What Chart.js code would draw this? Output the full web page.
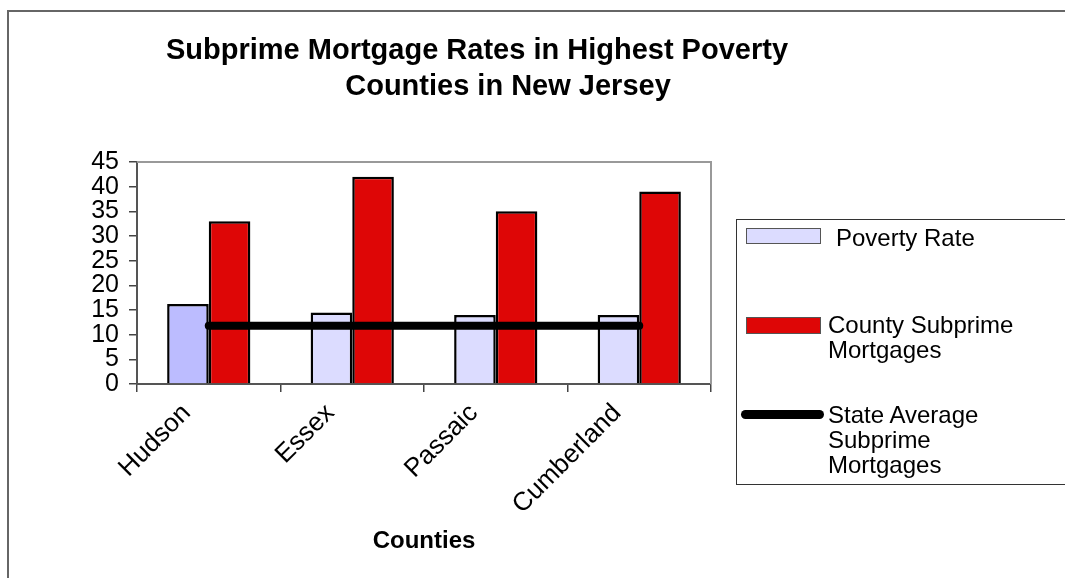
<!DOCTYPE html>
<html>
<head>
<meta charset="utf-8">
<script src="https://cdn.jsdelivr.net/npm/chart.js@4/dist/chart.umd.min.js"></script>
<style>
  html, body { margin:0; padding:0; background:#fff; overflow:hidden; }
  body { width:1065px; height:578px; position:relative; font-family:"Liberation Sans", Arial, sans-serif; color:#000; }
  #frame { position:absolute; left:7px; top:10px; width:1100px; height:600px; border-top:2px solid #666; border-left:2px solid #666; }
  canvas#c { position:absolute; left:0; top:0; }
  .title { position:absolute; white-space:nowrap; font-weight:bold; font-size:29px; line-height:36px; transform:translateX(-50%); }
  #legend { position:absolute; left:736px; top:219px; width:340px; height:264px; border:1.5px solid #333; }
  .sw { position:absolute; box-sizing:border-box; }
  .lt { position:absolute; font-size:24px; line-height:25px; width:200px; }
</style>
</head>
<body>
<div id="frame"></div>
<canvas id="c" width="1065" height="578"></canvas>
<div id="t1" class="title" style="left:477px; top:31px;"></div>
<div id="t2" class="title" style="left:508px; top:67px;"></div>
<div id="legend"></div>
<script>
// ---- data ----
const titleLines = ['Subprime Mortgage Rates in Highest Poverty', 'Counties in New Jersey'];
const categories = ['Hudson', 'Essex', 'Passaic', 'Cumberland'];
const seriesNames = ['Poverty Rate', 'County Subprime Mortgages', 'State Average Subprime Mortgages'];
const povertyRate = [16.2, 14.5, 14.0, 14.0];
const countySubprime = [33, 42, 35, 39];
const stateAverage = [11.8, 11.8, 11.8, 11.8];
const yMin = 0, yMax = 45, yStep = 5;
const xAxisTitle = 'Counties';

// ---- styles ----
const FONT = '"Liberation Sans", Arial, sans-serif';
const povertyColors = ['#bcbcff', '#dcdcff', '#dcdcff', '#dcdcff'];
const povertyLegendColor = '#dcdcff';
const countyColor = '#de0606';
const lineColor = '#000000';

document.getElementById('t1').textContent = titleLines[0];
document.getElementById('t2').textContent = titleLines[1];

// legend (HTML)
const lg = document.getElementById('legend');
function add(html){ lg.insertAdjacentHTML('beforeend', html); }
add(`<div class="sw" style="left:9px;top:8px;width:75px;height:16px;background:${povertyLegendColor};border:1.5px solid #555;"></div>`);
add(`<div class="lt" style="left:99px;top:5px;">${seriesNames[0]}</div>`);
add(`<div class="sw" style="left:9px;top:97px;width:75px;height:17px;background:${countyColor};border:1.5px solid #555;"></div>`);
add(`<div class="lt" style="left:91px;top:92px;">${seriesNames[1]}</div>`);
add(`<div class="sw" style="left:4px;top:190px;width:83px;height:9px;background:${lineColor};border-radius:5px;"></div>`);
add(`<div class="lt" style="left:91px;top:182px;">${seriesNames[2]}</div>`);

const framePlugin = {
  id: 'frame',
  beforeDatasetsDraw(chart) {
    const a = chart.chartArea, ctx = chart.ctx;
    ctx.save();
    ctx.strokeStyle = '#999';
    ctx.lineWidth = 2;
    ctx.beginPath();
    ctx.moveTo(a.left, a.top);
    ctx.lineTo(a.right, a.top);
    ctx.lineTo(a.right, a.bottom);
    ctx.stroke();
    ctx.restore();
  }
};

new Chart(document.getElementById('c'), {
  type: 'bar',
  data: {
    labels: categories,
    datasets: [
      { label: seriesNames[0], data: povertyRate, backgroundColor: povertyColors, borderColor: '#000', borderWidth: 2.5, categoryPercentage: 0.58, barPercentage: 1, order: 1 },
      { label: seriesNames[1], data: countySubprime, backgroundColor: countyColor, borderColor: '#000', borderWidth: 2.5, categoryPercentage: 0.58, barPercentage: 1, order: 1 },
      { type: 'line', label: seriesNames[2], data: stateAverage, borderColor: lineColor, borderWidth: 8, borderCapStyle: 'round', pointRadius: 0, pointHoverRadius: 0, fill: false, tension: 0, order: 0 }
    ]
  },
  options: {
    responsive: false,
    animation: false,
    devicePixelRatio: 1,
    layout: { padding: { left: 0, top: 162, right: 354, bottom: 0 } },
    plugins: { legend: { display: false }, title: { display: false }, tooltip: { enabled: false } },
    scales: {
      x: {
        offset: true,
        grid: { offset: true, drawOnChartArea: false, drawTicks: true, tickLength: 8, color: '#444', lineWidth: 1.5 },
        border: { display: true, color: '#555', width: 2 },
        ticks: { color: '#000', font: { family: FONT, size: 26 }, minRotation: 45, maxRotation: 45, autoSkip: false, labelOffset: -22, padding: 6 },
        title: { display: true, text: xAxisTitle, color: '#000', font: { family: FONT, size: 24, weight: 'bold' }, padding: { top: 4, bottom: 22 } },
        afterFit: s => { s.height = 194; }
      },
      y: {
        min: yMin, max: yMax,
        ticks: { stepSize: yStep, autoSkip: false, color: '#000', font: { family: FONT, size: 25 }, padding: 10 },
        grid: { drawOnChartArea: false, drawTicks: true, tickLength: 8, color: '#444', lineWidth: 1.5 },
        border: { display: true, color: '#555', width: 2 },
        afterFit: s => { s.width = 137; }
      }
    }
  },
  plugins: [framePlugin]
});
</script>
</body>
</html>
